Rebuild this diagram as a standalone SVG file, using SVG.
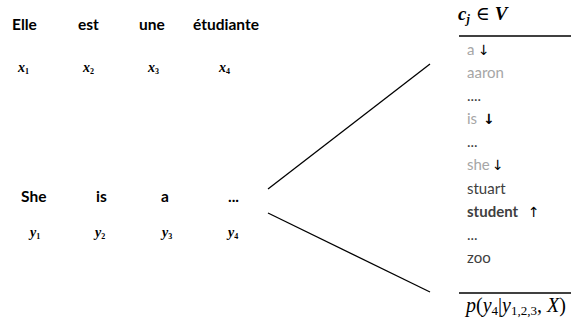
<svg xmlns="http://www.w3.org/2000/svg" width="571" height="321" viewBox="0 0 571 321">
<style>
.w{font-family:Lato,"Open Sans","Liberation Sans",sans-serif;font-size:15.5px;font-weight:bold;fill:#000}
.m{font-family:"Liberation Serif","DejaVu Serif",serif;font-style:italic;fill:#000}
.s{font-size:14px;font-weight:bold}
.li{font-family:Lato,"Open Sans","Liberation Sans",sans-serif;font-size:15px;fill:#404040}
.g{fill:#a6a6a6}
.ar{font-family:"DejaVu Sans",sans-serif;font-size:14px;fill:#000}
.ln{stroke:#000;stroke-width:1.3;fill:none}
</style>
<rect width="571" height="321" fill="#fff"/>
<g id="source">
<text class="w" x="12" y="30">Elle</text>
<text class="w" x="78" y="30">est</text>
<text class="w" x="139" y="30">une</text>
<text class="w" x="193" y="30">étudiante</text>
<text class="m s" x="18" y="72">x<tspan font-size="8" dy="2" font-style="normal">1</tspan></text>
<text class="m s" x="83" y="72">x<tspan font-size="8" dy="2" font-style="normal">2</tspan></text>
<text class="m s" x="148" y="72">x<tspan font-size="8" dy="2" font-style="normal">3</tspan></text>
<text class="m s" x="219" y="72">x<tspan font-size="8" dy="2" font-style="normal">4</tspan></text>
</g>
<g id="target">
<text class="w" x="21" y="202">She</text>
<text class="w" x="96" y="202">is</text>
<text class="w" x="161" y="202">a</text>
<text class="w" x="228" y="202">...</text>
<text class="m s" x="30" y="237">y<tspan font-size="8" dy="2" font-style="normal">1</tspan></text>
<text class="m s" x="95" y="237">y<tspan font-size="8" dy="2" font-style="normal">2</tspan></text>
<text class="m s" x="162" y="237">y<tspan font-size="8" dy="2" font-style="normal">3</tspan></text>
<text class="m s" x="228" y="237">y<tspan font-size="8" dy="2" font-style="normal">4</tspan></text>
</g>
<g id="connectors">
<line class="ln" x1="268" y1="189" x2="430" y2="64"/>
<line class="ln" x1="268" y1="213" x2="430" y2="292"/>
</g>
<g id="vocabulary">
<text class="m" font-size="19" font-weight="bold" x="458" y="20">c<tspan font-size="12" dy="3">j</tspan><tspan dy="-3" font-style="normal" font-weight="normal" dx="6">∈</tspan><tspan dx="5">V</tspan></text>
<line class="ln" x1="459" y1="36" x2="571" y2="36" stroke-width="1.6"/>
<text class="li g" x="467" y="55">a</text>
<text class="ar" x="478" y="55">↓</text>
<text class="li g" x="467" y="78">aaron</text>
<text class="li" x="467" y="101">....</text>
<text class="li g" x="467" y="124">is</text>
<text class="ar" x="483" y="124" font-weight="bold" font-size="17">↓</text>
<text class="li" x="467" y="147">...</text>
<text class="li g" x="467" y="170">she</text>
<text class="ar" x="492" y="170">↓</text>
<text class="li" x="467" y="194">stuart</text>
<text class="li" x="467" y="217" font-weight="bold" fill="#000">student</text>
<text class="ar" x="528" y="217" font-size="15">↑</text>
<text class="li" x="467" y="240">...</text>
<text class="li" x="467" y="263">zoo</text>
<line class="ln" x1="459" y1="293" x2="571" y2="293" stroke-width="1.6"/>
<text class="m" font-size="20" x="466" y="312">p<tspan font-style="normal">(</tspan>y<tspan font-size="13" dy="3" font-style="normal">4</tspan><tspan dy="-3" font-style="normal">|</tspan>y<tspan font-size="13" dy="3" font-style="normal">1,2,3</tspan><tspan dy="-3" font-style="normal">, </tspan>X<tspan font-style="normal">)</tspan></text>
</g>
</svg>
